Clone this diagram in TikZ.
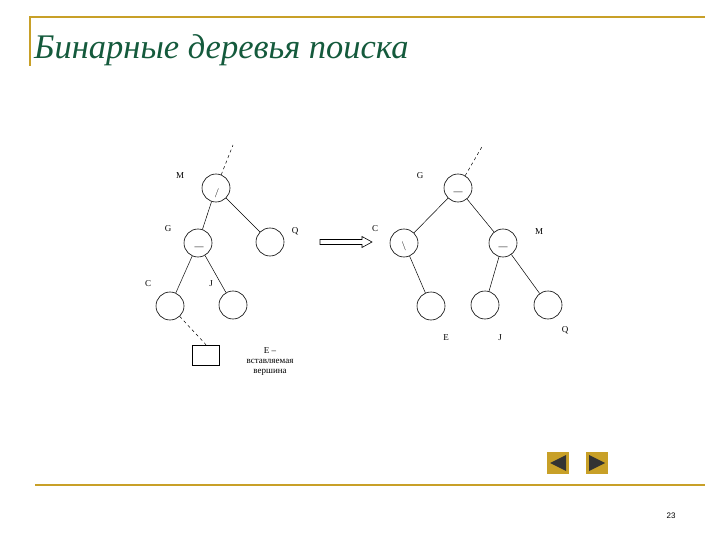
\documentclass[tikz,border=0pt]{standalone}
\usepackage{fontspec}
\usetikzlibrary{arrows.meta}
\setmainfont{Liberation Serif}
\newfontfamily\sansf{Liberation Sans}
\begin{document}
\begin{tikzpicture}[x=1pt,y=-1pt,
  nd/.style={circle,draw,line width=0.6pt,minimum size=28pt,inner sep=0pt},
  lb/.style={font=\fontsize{9}{10}\selectfont},
  mk/.style={font=\fontsize{9}{10}\selectfont,inner sep=0},
  ed/.style={draw,line width=0.5pt},
  dd/.style={draw,line width=0.5pt,dashed},
  frame/.style={draw=gold,line width=1.2pt}]
\useasboundingbox (0,0) rectangle (720,540);
\definecolor{tgreen}{RGB}{20,90,60}
\definecolor{gold}{RGB}{200,160,40}
% frame
\draw[frame] (30,66) coordinate (fa) -- (30,17) coordinate (fb) -- (705,17) coordinate (fc);
\draw[frame] (35,485) coordinate (fd) -- (705,485) coordinate (fe);
\node[anchor=west,text=tgreen,font=\fontsize{34.5}{36}\selectfont\itshape,inner sep=0] (title) at (34,50) {Бинарные деревья поиска};
% left tree
\node[nd] (lM) at (216,188) {};
\node[nd] (lG) at (198,243) {};
\node[nd] (lQ) at (270,242) {};
\node[nd] (lC) at (170,306) {};
\node[nd] (lJ) at (233,305) {};
\node[mk] (mM) at (217,193) {$/$};
\node[mk] (mG) at (199,248) {---};
\node[draw,line width=0.6pt,minimum width=27pt,minimum height=20pt,inner sep=0] (lE) at (206,355) {};
\coordinate (ltop) at (233,145);
\draw[dd] (lM) -- (ltop);
\draw[ed] (lM) -- (lG);
\draw[ed] (lM) -- (lQ);
\draw[ed] (lG) -- (lC);
\draw[ed] (lG) -- (lJ);
\draw[dd] (lC) -- (lE.north);
\node[lb] (tM) at (180,176) {M};
\node[lb] (tG) at (168,229) {G};
\node[lb] (tQ) at (295,231) {Q};
\node[lb] (tC) at (148,284) {C};
\node[lb] (tJ) at (211,284) {J};
\node[lb,align=center] (tE) at (270,362) {E –\\вставляемая\\вершина};
% arrow (outlined)
\coordinate (a1) at (320,242);
\coordinate (a2) at (372,242);
\draw[line width=0.6pt,fill=white] (a1) ++(0,-2.5) -- ++(42,0) -- ++(0,-3) -- (a2) -- ++(-10,5.5) -- ++(0,-3) -- ++(-42,0) -- cycle;
% right tree
\node[nd] (rG) at (458,188) {};
\node[nd] (rC) at (404,243) {};
\node[nd] (rM) at (503,243) {};
\node[nd] (rE) at (431,306) {};
\node[nd] (rJ) at (485,305) {};
\node[nd] (rQ) at (548,305) {};
\node[mk] (nG) at (458,193) {---};
\node[mk] (nC) at (404,246) {$\backslash$};
\node[mk] (nM) at (503,248) {---};
\coordinate (rtop) at (483,145);
\draw[dd] (rG) -- (rtop);
\draw[ed] (rG) -- (rC);
\draw[ed] (rG) -- (rM);
\draw[ed] (rC) -- (rE);
\draw[ed] (rM) -- (rJ);
\draw[ed] (rM) -- (rQ);
\node[lb] (sG) at (420,176) {G};
\node[lb] (sC) at (375,229) {C};
\node[lb] (sM) at (539,232) {M};
\node[lb] (sE) at (446,338) {E};
\node[lb] (sJ) at (500,338) {J};
\node[lb] (sQ) at (565,330) {Q};
% nav buttons
\node[fill=gold,minimum size=22pt,inner sep=0] (b1) at (558,463) {};
\node[fill=gold,minimum size=22pt,inner sep=0] (b2) at (597,463) {};
\fill[black!80] (550,463) -- (566,455) -- (566,471) -- cycle;
\fill[black!80] (605,463) -- (589,455) -- (589,471) -- cycle;
\node[font=\sansf\fontsize{8}{9}\selectfont] (pg) at (671,516) {23};
\end{tikzpicture}
\end{document}
